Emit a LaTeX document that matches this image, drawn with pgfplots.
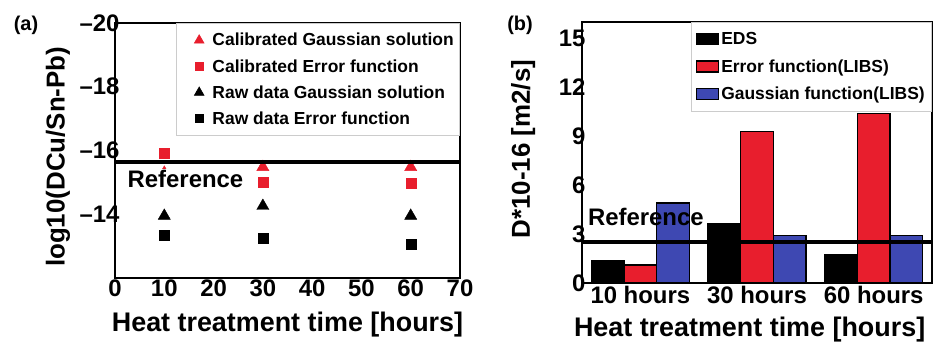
\documentclass[border=0pt]{standalone}
\usepackage{pgfplots}
\pgfplotsset{compat=1.18}
\usepackage{fontspec}
\setmainfont{Liberation Sans}
\definecolor{myred}{RGB}{232,30,45}
\definecolor{myblue}{RGB}{62,72,178}
\begin{document}
\begin{tikzpicture}
\path[use as bounding box] (0,0) rectangle (934bp,-343bp);
\begin{axis}[
  name=A, clip marker paths=true,
  at={(115bp,-23bp)}, anchor=north west,
  scale only axis, width=345bp, height=255bp,
  xmin=0, xmax=70, ymin=-20, ymax=-12, y dir=reverse,
  xtick={0,10,...,70},
  ytick={-20,-18,-16,-14},
  yticklabels={\textendash20,\textendash18,\textendash16,\textendash14},
  /pgf/number format/assume math mode=true,
  ticklabel style={font=\bfseries\fontsize{24}{26}\selectfont},
  yticklabel style={xshift=8bp},
  xticklabel style={yshift=2bp},
  major tick length=0pt,
  axis line style={line width=2bp},
  xlabel={Heat treatment time [hours]},
  ylabel={log10(DCu/Sn-Pb)},
  xlabel style={font=\bfseries\fontsize{27}{30}\selectfont, at={(axis description cs:0.5,-0.184)}, anchor=center},
  ylabel style={font=\bfseries\fontsize{26}{30}\selectfont, at={(axis description cs:-0.165,0.475)}, anchor=center},
  legend style={at={(1,1)}, anchor=north east, draw=gray!40, line width=0.6bp, fill=white,
    font=\bfseries\fontsize{17.5}{20}\selectfont, inner xsep=4bp, inner ysep=8bp, row sep=8bp},
  legend cell align=left,
  mleg/.style={legend image code/.code={\path (-4bp,0bp) (26bp,0bp); \draw[##1] plot coordinates {(15bp,0bp)};}},
  legend image post style={/tikz/every mark/.append style={scale=0.8}},
]
\addplot[only marks, mark=triangle*, mark size=7bp, color=myred, mleg] coordinates {(10,-15.3) (30,-15.48) (60,-15.48)};
\addlegendentry{Calibrated Gaussian solution}
\addplot[only marks, mark=square*, mark size=5bp, color=myred, mleg] coordinates {(10,-15.93) (30,-15.02) (60,-14.98)};
\addlegendentry{Calibrated Error function}
\addplot[only marks, mark=triangle*, mark size=7bp, color=black, mleg] coordinates {(10,-13.95) (30,-14.26) (60,-13.95)};
\addlegendentry{Raw data Gaussian solution}
\addplot[only marks, mark=square*, mark size=5bp, color=black, mleg] coordinates {(10,-13.35) (30,-13.26) (60,-13.07)};
\addlegendentry{Raw data Error function}
\addplot[line width=3.5bp, black, forget plot] coordinates {(0,-15.64) (70,-15.64)};
\node[font=\bfseries\fontsize{24}{26}\selectfont, fill=white, inner sep=1bp] at (axis cs:14.3,-15.1) {Reference};
\end{axis}
\node[font=\bfseries\fontsize{20}{22}\selectfont] at ([xshift=-89bp,yshift=-2bp]A.north west) {(a)};

\begin{axis}[
  name=B,
  at={(582bp,-22bp)}, anchor=north west,
  scale only axis, width=350bp, height=261bp,
  xmin=-0.5, xmax=2.5, ymin=0, ymax=16,
  xtick={0,1,2}, xticklabels={10 hours,30 hours,60 hours},
  ytick={0,3,...,15},
  /pgf/number format/assume math mode=true,
  ticklabel style={font=\bfseries\fontsize{24}{26}\selectfont},
  yticklabel style={xshift=7bp},
  major tick length=0pt,
  axis line style={line width=2bp},
  xlabel={Heat treatment time [hours]},
  ylabel={D*10-16 [m2/s]},
  xlabel style={font=\bfseries\fontsize{27}{30}\selectfont, at={(axis description cs:0.479,-0.18)}, anchor=center},
  ylabel style={font=\bfseries\fontsize{26}{30}\selectfont, at={(axis description cs:-0.168,0.513)}, anchor=center},
  legend style={at={(1,1)}, anchor=north east, draw=gray!40, line width=0.6bp, fill=white,
    font=\bfseries\fontsize{17.5}{20}\selectfont, inner xsep=5bp, inner ysep=8bp, row sep=9.5bp},
  legend cell align=left,
  legend image code/.code={\draw[#1] (0bp,-5.5bp) rectangle (22bp,5.5bp);},
]
\addplot[ybar, bar width=0.28, bar shift=-0.28, fill=black, draw=black, line width=1.2bp] coordinates {(0,1.4) (1,3.66) (2,1.77)};
\addlegendentry{EDS}
\addplot[ybar, bar width=0.28, bar shift=0, fill=myred, draw=black, line width=1.2bp] coordinates {(0,1.1) (1,9.27) (2,10.37)};
\addlegendentry{Error function(LIBS)}
\addplot[ybar, bar width=0.28, bar shift=0.28, fill=myblue, draw=black, line width=1.2bp] coordinates {(0,4.9) (1,2.93) (2,2.93)};
\addlegendentry{Gaussian function(LIBS)}
\addplot[line width=3.5bp, black, forget plot] coordinates {(-0.5,2.5) (2.5,2.5)};
\node[font=\bfseries\fontsize{24}{26}\selectfont] at (axis cs:0.047,4.05) {Reference};
\end{axis}
\node[font=\bfseries\fontsize{20}{22}\selectfont] at ([xshift=-62bp,yshift=-3bp]B.north west) {(b)};
\end{tikzpicture}
\end{document}
